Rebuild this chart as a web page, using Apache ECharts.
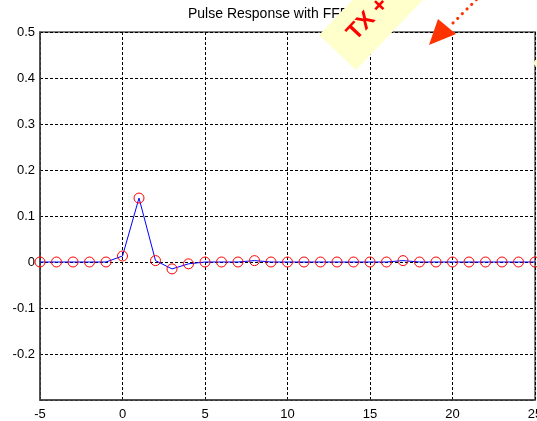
<!DOCTYPE html>
<html>
<head>
<meta charset="utf-8">
<script src="https://cdn.jsdelivr.net/npm/echarts@6/dist/echarts.min.js"></script>
<style>
  html, body { margin: 0; padding: 0; background: #fff; }
  #chart { width: 537px; height: 421px; }
</style>
</head>
<body>
<div id="chart"></div>
<script>
// Sample index n and pulse response h[n]
const sampleIndex = [-5, -4, -3, -2, -1, 0, 1, 2, 3, 4, 5, 6, 7, 8, 9, 10, 11, 12, 13, 14, 15,
                     16, 17, 18, 19, 20, 21, 22, 23, 24, 25];
const pulseValues = [0, 0, 0, 0, 0, 0.013, 0.139, 0.003, -0.015, -0.004, 0, 0, 0, 0.003, 0, 0, 0, 0, 0, 0, 0,
                     0, 0.003, 0, 0, 0, 0, 0, 0, 0, 0];
const xTicks = [-5, 0, 5, 10, 15, 20, 25];
const yTicks = [-0.2, -0.1, 0, 0.1, 0.2, 0.3, 0.4, 0.5];
const titleText = 'Pulse Response with FFE Taps';
const noteText = 'TX +';

const font = '"Liberation Sans", Arial, Helvetica, sans-serif';
const chart = echarts.init(document.getElementById('chart'), null, { renderer: 'canvas' });

const points = sampleIndex.map((x, i) => [x, pulseValues[i]]);

const gridLine = { show: true, lineStyle: { color: '#000', width: 1, type: [3, 2] } };

chart.setOption({
  animation: false,
  backgroundColor: '#fff',
  title: {
    text: titleText,
    left: 188, top: 7, padding: 0,
    textStyle: { fontFamily: font, fontSize: 14, fontWeight: 'normal', color: '#000' }
  },
  grid: {
    left: 40, right: 2, top: 32, bottom: 21,
    containLabel: false, outerBoundsMode: 'none',
    show: true, borderColor: '#555', borderWidth: 1.5, backgroundColor: 'transparent'
  },
  xAxis: {
    type: 'value', min: -5, max: 25, interval: 5,
    axisLine: { show: true, onZero: false, lineStyle: { color: '#444', width: 1.5 } },
    axisTick: { show: false },
    splitLine: gridLine,
    axisLabel: {
      margin: 8, color: '#000', fontFamily: font, fontSize: 13,
      formatter: v => xTicks.includes(v) ? String(v) : ''
    }
  },
  yAxis: {
    type: 'value', min: -0.3, max: 0.5, interval: 0.1,
    axisLine: { show: true, onZero: false, lineStyle: { color: '#444', width: 1.5 } },
    axisTick: { show: false },
    splitLine: gridLine,
    axisLabel: {
      margin: 5, color: '#000', fontFamily: font, fontSize: 13,
      formatter: v => {
        const r = Math.round(v * 10) / 10;
        if (!yTicks.some(t => Math.abs(t - r) < 1e-9)) return '';
        return r === 0 ? '0' : r.toFixed(1);
      }
    }
  },
  series: [{
    type: 'line',
    data: points,
    lineStyle: { color: '#0000ff', width: 1 },
    symbol: 'circle',
    symbolSize: 10,
    itemStyle: { color: 'rgba(0,0,0,0)', borderColor: '#ff0000', borderWidth: 1 },
    z: 3
  }],
  graphic: [
    // yellow note strip over the title
    {
      type: 'polygon', z: 100,
      shape: { points: [[319, 35], [356, 70], [440, -18], [403, -53]] },
      style: { fill: '#ffffcc' }
    },
    {
      type: 'text', z: 101,
      x: 368, y: 19, rotation: 47 * Math.PI / 180,
      style: {
        text: noteText, fill: '#ff0000', font: 'bold 23px ' + font,
        textAlign: 'center', textVerticalAlign: 'middle'
      }
    },
    // dotted pointer with arrowhead
    {
      type: 'line', z: 101,
      shape: { x1: 453, y1: 23, x2: 482, y2: -6 },
      style: { stroke: '#ff3300', lineWidth: 3, lineDash: [0.1, 6.5], lineCap: 'round' }
    },
    {
      type: 'polygon', z: 101,
      shape: { points: [[429, 45], [438, 19], [456, 34]] },
      style: { fill: '#ff3300' }
    },
    // edge of a second note at the right border
    {
      type: 'polygon', z: 100,
      shape: { points: [[533, 63], [538, 57], [538, 69]] },
      style: { fill: '#ffffcc' }
    }
  ]
});
</script>
</body>
</html>
